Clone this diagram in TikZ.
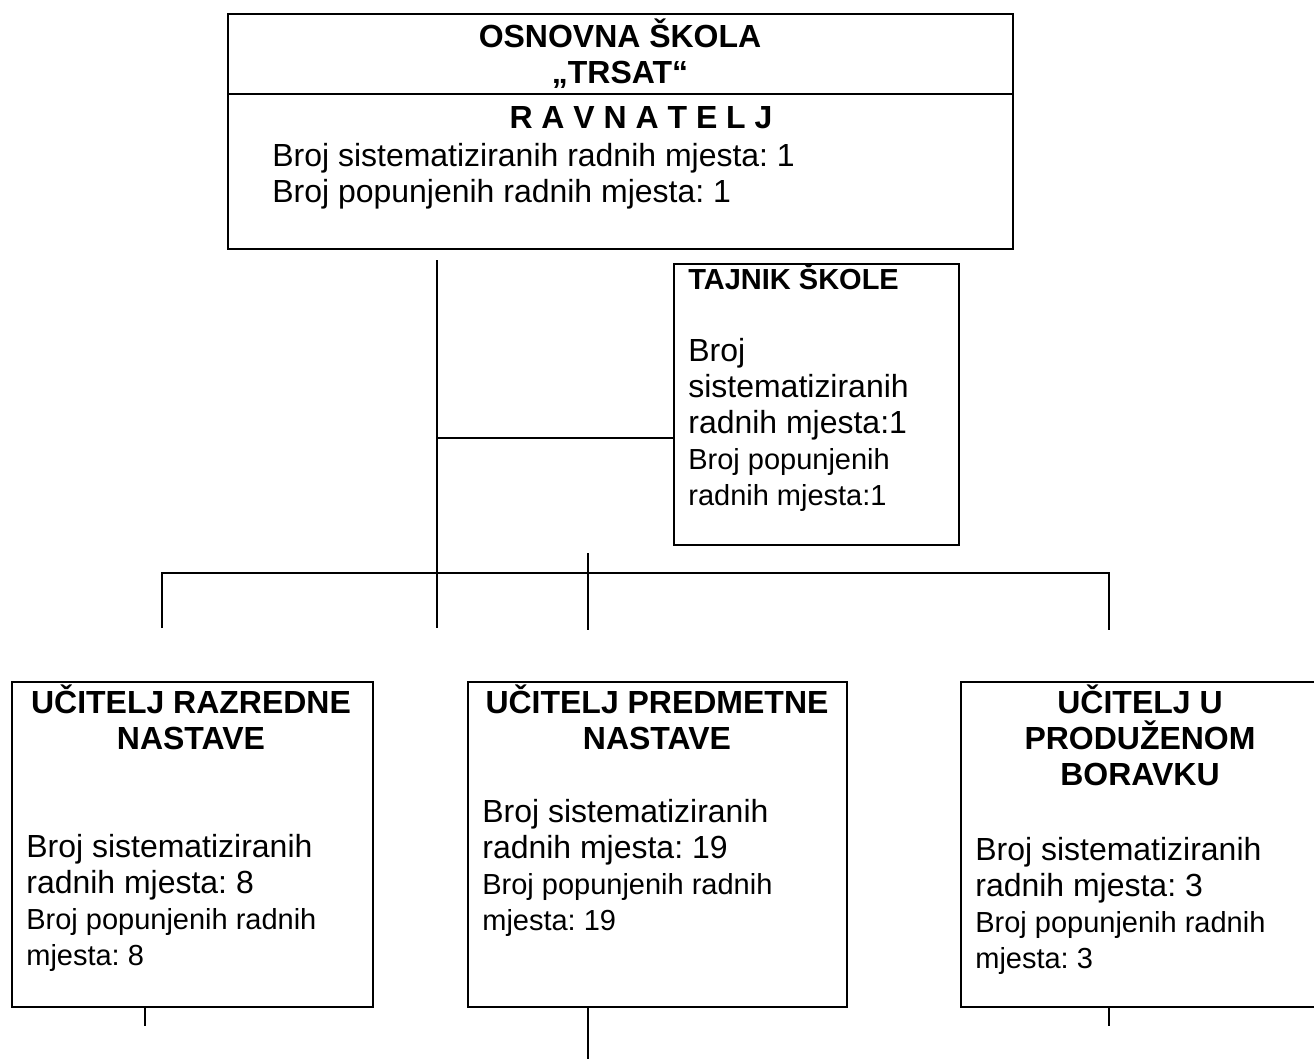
\documentclass[tikz,border=0pt]{standalone}
\usepackage{fontspec}
\setmainfont{Liberation Sans}
\frenchspacing
\usetikzlibrary{positioning}
\usetikzlibrary{calc}

\tikzset{
  orgbox/.style={draw, line width=1.1pt, anchor=north west, inner sep=0pt},
  head/.style={font=\bfseries\fontsize{18.2}{20.4}\selectfont, align=center, anchor=base, inner sep=0pt},
  body/.style={font=\fontsize{18.2}{20.4}\selectfont, align=left, anchor=base west, inner sep=0pt},
  link/.style={line width=0.85pt}
}
\newcommand{\smalltxt}[1]{{\fontsize{16.5}{20.4}\selectfont #1}}

\begin{document}
\begin{tikzpicture}[x=0.02cm, y=-0.02cm]
\useasboundingbox (0,0) rectangle (1314,1059);

% boxes
\node[orgbox, minimum width=15.7cm, minimum height=1.6cm] (skola) at (227,13) {};
\node[orgbox, minimum width=15.7cm, minimum height=3.1cm] (ravnatelj) at (227,93) {};
\node[orgbox, minimum width=5.7cm, minimum height=5.62cm] (tajnik) at (673,263) {};
\node[orgbox, minimum width=7.22cm, minimum height=6.5cm] (razredna) at (11,681) {};
\node[orgbox, minimum width=7.58cm, minimum height=6.5cm] (predmetna) at (467,681) {};
\node[orgbox, minimum width=7.2cm, minimum height=6.5cm] (boravak) at (960,681) {};

% texts (multi-line nodes sit on the baseline of their last line)
\node[head] (skolaT) at (620,83) {OSNOVNA ŠKOLA\\„TRSAT“};
\node[head] (ravT) at (641,128) {R A V N A T E L J};
\node[body] (ravB) at (272,202) {Broj sistematiziranih radnih mjesta: 1\\Broj popunjenih radnih mjesta: 1};

\node[head, anchor=base west, font=\bfseries\fontsize{16.5}{20.4}\selectfont] (tajT) at (688,289) {TAJNIK ŠKOLE};
\node[body] (tajB) at (688,505) {Broj\\sistematiziranih\\radnih mjesta:1\\\smalltxt{Broj popunjenih}\\\smalltxt{radnih mjesta:1}};

\node[head] (razT) at (191,749) {UČITELJ RAZREDNE\\NASTAVE};
\node[body] (razB) at (26,965) {Broj sistematiziranih\\radnih mjesta: 8\\\smalltxt{Broj popunjenih radnih}\\\smalltxt{mjesta: 8}};

\node[head] (preT) at (657,749) {UČITELJ PREDMETNE\\NASTAVE};
\node[body] (preB) at (482,930) {Broj sistematiziranih\\radnih mjesta: 19\\\smalltxt{Broj popunjenih radnih}\\\smalltxt{mjesta: 19}};

\node[head] (borT) at (1140,785) {UČITELJ U\\PRODUŽENOM\\BORAVKU};
\node[body] (borB) at (975,968) {Broj sistematiziranih\\radnih mjesta: 3\\\smalltxt{Broj popunjenih radnih}\\\smalltxt{mjesta: 3}};

% lines
\coordinate (trunkTop) at (437,260);
\coordinate (trunkBot) at (437,628);
\coordinate (branch) at (437,438);
\coordinate (busL) at (162,573);
\coordinate (busR) at (1109,573);
\coordinate (legL) at (162,628);
\coordinate (legR) at (1109,630);
\coordinate (tickTop) at (588,553);
\coordinate (tickBot) at (588,630);

\draw[link] (trunkTop) -- (trunkBot);
\draw[link] (branch) -- (branch -| tajnik.west);
\draw[link] (legL) -- (busL) -- (busR) -- (legR);
\draw[link] (tickTop) -- (tickBot);

\draw[link] (razredna.south -| 145,0) -- (145,1026);
\draw[link] (predmetna.south -| 588,0) -- (588,1059);
\draw[link] (boravak.south -| 1109,0) -- (1109,1026);
\end{tikzpicture}
\end{document}
